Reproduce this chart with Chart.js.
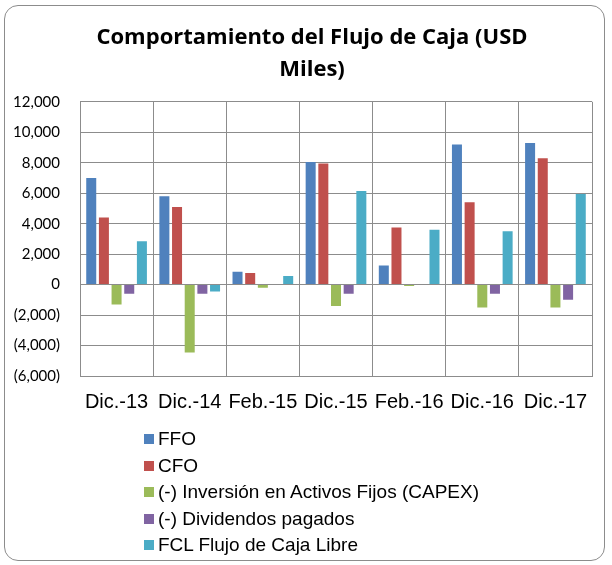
<!DOCTYPE html>
<html>
<head>
<meta charset="utf-8">
<script src="https://cdn.jsdelivr.net/npm/chart.js@4"></script>
<style>
  body { margin: 0; background: #fff; }
  #wrap { position: relative; width: 612px; height: 565px; }
  #frame { position: absolute; left: 4px; top: 5px; width: 601px; height: 556px;
           border: 1px solid #8c8c8c; border-radius: 14px; box-sizing: border-box; }
  #myChart { position: absolute; left: 0; top: 0; }
  #legend { position: absolute; left: 144px; top: 426px; font-family: 'Liberation Sans', Arial, sans-serif;
            font-size: 19px; color: #000; }
  #legend div { height: 26.6px; line-height: 26px; white-space: nowrap; }
  #legend span { display: inline-block; width: 10px; height: 10px; margin-right: 4px; vertical-align: 1px; }
</style>
</head>
<body>
<div id="wrap">
  <div id="frame"></div>
  <canvas id="myChart" width="612" height="565"></canvas>
  <div id="legend"></div>
</div>
<script>
const periods = ['Dic.-13', 'Dic.-14', 'Feb.-15', 'Dic.-15', 'Feb.-16', 'Dic.-16', 'Dic.-17'];
const seriesNames = ['FFO', 'CFO', '(-) Inversión en Activos Fijos (CAPEX)', '(-) Dividendos pagados', 'FCL Flujo de Caja Libre'];
const ffo = [7000, 5800, 850, 8050, 1250, 9200, 9300];
const cfo = [4400, 5100, 760, 7950, 3750, 5400, 8300];
const capex = [-1300, -4450, -200, -1400, -100, -1500, -1500];
const dividendos = [-600, -600, 0, -600, 0, -600, -1000];
const fcl = [2850, -450, 570, 6150, 3600, 3500, 5950];
const colors = ['#4F81BD', '#C0504D', '#9BBB59', '#8064A2', '#4BACC6'];

const allSeries = [ffo, cfo, capex, dividendos, fcl];

function fmt(v) {
    let s = Math.abs(v).toLocaleString('en-US');
    return v < 0 ? '(' + s + ')' : s;
}

// nudge the title a bit to the right, like in the original
const titleShift = {
    id: 'titleShift',
    afterLayout(chart) {
        if (chart.titleBlock) {
            chart.titleBlock.left += 12;
            chart.titleBlock.right += 12;
        }
    }
};

var ctx = document.getElementById('myChart');
var chart = new Chart(ctx, {
    type: 'bar',
    data: {
        labels: periods,
        datasets: allSeries.map((d, i) => ({
            label: seriesNames[i],
            data: d,
            backgroundColor: colors[i],
            barPercentage: 0.79,
            categoryPercentage: 0.866
        }))
    },
    plugins: [titleShift],
    options: {
        responsive: false,
        animation: false,
        layout: { padding: { left: 8, right: 20, top: 22, bottom: 137 } },
        plugins: {
            legend: { display: false },
            tooltip: { enabled: false },
            title: {
                display: true,
                text: ['Comportamiento del Flujo de Caja (USD', 'Miles)'],
                color: '#000',
                font: { family: "'Open Sans', 'Noto Sans', sans-serif", size: 22, weight: 'bold', lineHeight: 1.45 },
                padding: { top: 0, bottom: 16 }
            }
        },
        scales: {
            x: {
                grid: { color: '#8c8c8c', offset: true, drawTicks: false },
                border: { color: '#8c8c8c' },
                ticks: { color: '#000', padding: 14, maxRotation: 0, autoSkip: false,
                         font: { family: "'Liberation Sans', Arial, sans-serif", size: 20 } }
            },
            y: {
                min: -6000,
                max: 12000,
                afterFit: (s) => { s.width = 72; },
                grid: { color: '#8c8c8c', drawTicks: false },
                border: { color: '#8c8c8c' },
                ticks: { stepSize: 2000, color: '#000', padding: 20,
                         font: { family: "Lato, 'Open Sans', sans-serif", size: 15 },
                         callback: (v) => fmt(v) }
            }
        }
    }
});

// legend below, one entry per row
var leg = document.getElementById('legend');
seriesNames.forEach((n, i) => {
    var row = document.createElement('div');
    row.innerHTML = '<span style="background:' + colors[i] + '"></span>' + n;
    leg.appendChild(row);
});
</script>
</body>
</html>
